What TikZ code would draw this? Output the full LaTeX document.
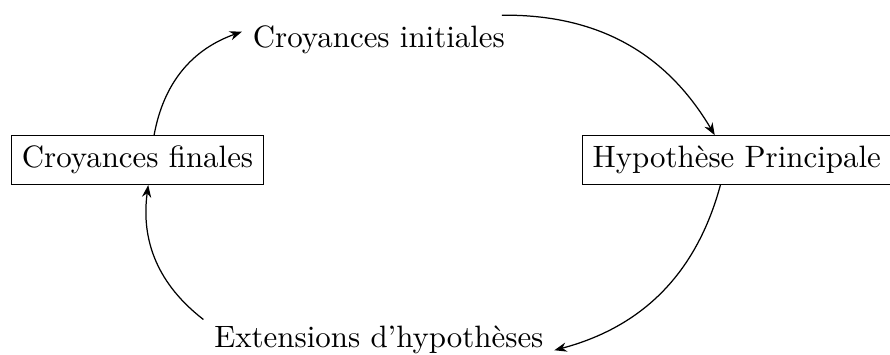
\documentclass[tikz,border=0pt]{standalone}
\usetikzlibrary{arrows.meta}
\begin{document}
\begin{tikzpicture}[x=1pt,y=1pt,
  box/.style={draw},
  link/.style={-{Stealth[length=4pt,width=3pt]}}]
\useasboundingbox (0,0) rectangle (288.0,114.6);
\node (init) at (122.6,101.6) {Croyances initiales};
\node[box] (hyp) at (238.4,62.8) {Hypothèse Principale};
\node (ext) at (122.6,4.5) {Extensions d'hypothèses};
\node[box] (fin) at (44.5,62.8) {Croyances finales};
\draw[link] (init) to[bend left] (hyp);
\draw[link] (hyp) to[bend left] (ext);
\draw[link] (ext) to[bend left] (fin);
\draw[link] (fin) to[bend left] (init);
\end{tikzpicture}
\end{document}
